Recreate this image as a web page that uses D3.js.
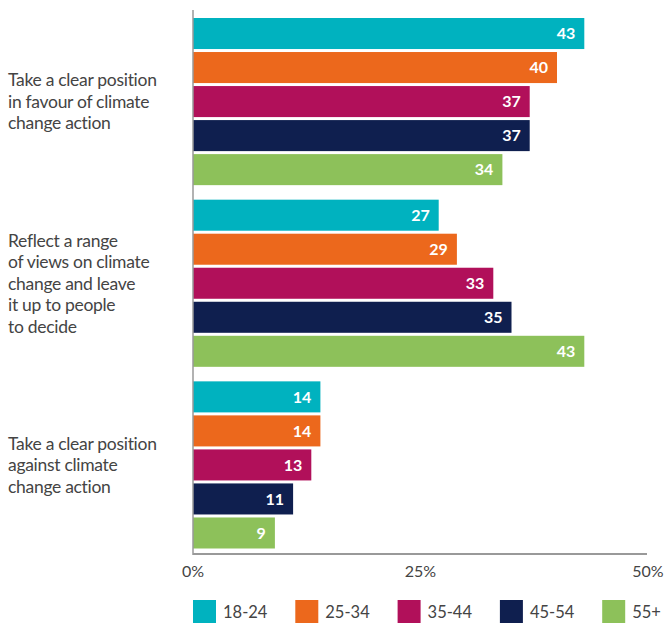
<!DOCTYPE html>
<html>
<head>
<meta charset="utf-8">
<script src="https://cdn.jsdelivr.net/npm/d3@7"></script>
<style>
  body { margin: 0; background: #fff; }
  svg text { font-family: Lato, "Open Sans", sans-serif; }
</style>
</head>
<body>
<div id="chart-area"><svg></svg></div>
<script>
const categories = [
  'Take a clear position in favour of climate change action',
  'Reflect a range of views on climate change and leave it up to people to decide',
  'Take a clear position against climate change action'
];
const categoryLines = [
  ['Take a clear position', 'in favour of climate', 'change action'],
  ['Reflect a range', 'of views on climate', 'change and leave', 'it up to people', 'to decide'],
  ['Take a clear position', 'against climate', 'change action']
];
const ageGroups = ['18-24', '25-34', '35-44', '45-54', '55+'];
const values = {
  '18-24': [43, 27, 14],
  '25-34': [40, 29, 14],
  '35-44': [37, 33, 13],
  '45-54': [37, 35, 11],
  '55+':   [34, 43, 9]
};
const ticks = [0, 25, 50];
const colours = ['#00b2bf', '#ec681c', '#b1105a', '#0f1f4f', '#8dc15a'];

const chartSize = { width: 664, height: 624 };

const main = () => {
  const svg = d3.select('#chart-area svg')
    .attr('width', chartSize.width)
    .attr('height', chartSize.height);

  const x = d3.scaleLinear().domain([0, 50]).range([193, 648]);
  const y = d3.scaleBand().domain(categories).range([18, 548.5]).paddingInner(0.08);
  const yInner = d3.scaleBand().domain(ageGroups).range([0, y.bandwidth()]).paddingInner(0.088);
  const color = d3.scaleOrdinal(ageGroups, colours);

  const rows = categories.flatMap((c, i) => ageGroups.map(a => ({ cat: c, age: a, v: values[a][i] })));

  const g = svg.append('g');
  g.selectAll('rect.bar').data(rows).enter().append('rect')
    .attr('class', 'bar')
    .attr('x', x(0))
    .attr('y', d => y(d.cat) + yInner(d.age))
    .attr('width', d => x(d.v) - x(0))
    .attr('height', yInner.bandwidth())
    .attr('fill', d => color(d.age));

  g.selectAll('text.val').data(rows).enter().append('text')
    .attr('class', 'val')
    .attr('x', d => x(d.v) - 9)
    .attr('y', d => y(d.cat) + yInner(d.age) + yInner.bandwidth() / 2)
    .attr('dy', '0.36em')
    .attr('text-anchor', 'end')
    .attr('fill', '#fff')
    .style('font-weight', 'bold')
    .style('font-size', '16px')
    .text(d => d.v);

  // axes lines
  svg.append('line')
    .attr('x1', x(0)).attr('x2', x(0))
    .attr('y1', 10).attr('y2', 555)
    .attr('stroke', '#999').attr('stroke-width', 1.5);
  svg.append('line')
    .attr('x1', x(0)).attr('x2', x(50) - 1)
    .attr('y1', 554).attr('y2', 554)
    .attr('stroke', '#999').attr('stroke-width', 2);

  svg.selectAll('text.tick').data(ticks).enter().append('text')
    .attr('class', 'tick')
    .attr('x', d => x(d))
    .attr('y', 577)
    .attr('text-anchor', 'middle')
    .attr('fill', '#444')
    .style('font-size', '16px')
    .text(d => `${d}%`);

  // category labels
  categoryLines.forEach((lines, i) => {
    const cy = y(categories[i]) + y.bandwidth() / 2;
    const t = svg.append('text')
      .attr('fill', '#444')
      .style('font-size', '17.5px')
      .style('letter-spacing', '-0.3px');
    lines.forEach((l, j) => {
      t.append('tspan')
        .attr('x', 8)
        .attr('y', cy + (j - (lines.length - 1) / 2) * 21.5)
        .attr('dy', '0.36em')
        .text(l);
    });
  });

  // legend
  const legend = svg.selectAll('g.legend').data(ageGroups).enter().append('g')
    .attr('class', 'legend')
    .attr('transform', (d, i) => `translate(${193 + i * 102.3},600)`);
  legend.append('rect')
    .attr('width', 23).attr('height', 23)
    .attr('fill', d => color(d));
  legend.append('text')
    .attr('x', 30).attr('y', 12)
    .attr('dy', '0.36em')
    .attr('fill', '#444')
    .style('font-size', '16.5px')
    .text(d => d);
};
window.onload = main;
</script>
</body>
</html>
